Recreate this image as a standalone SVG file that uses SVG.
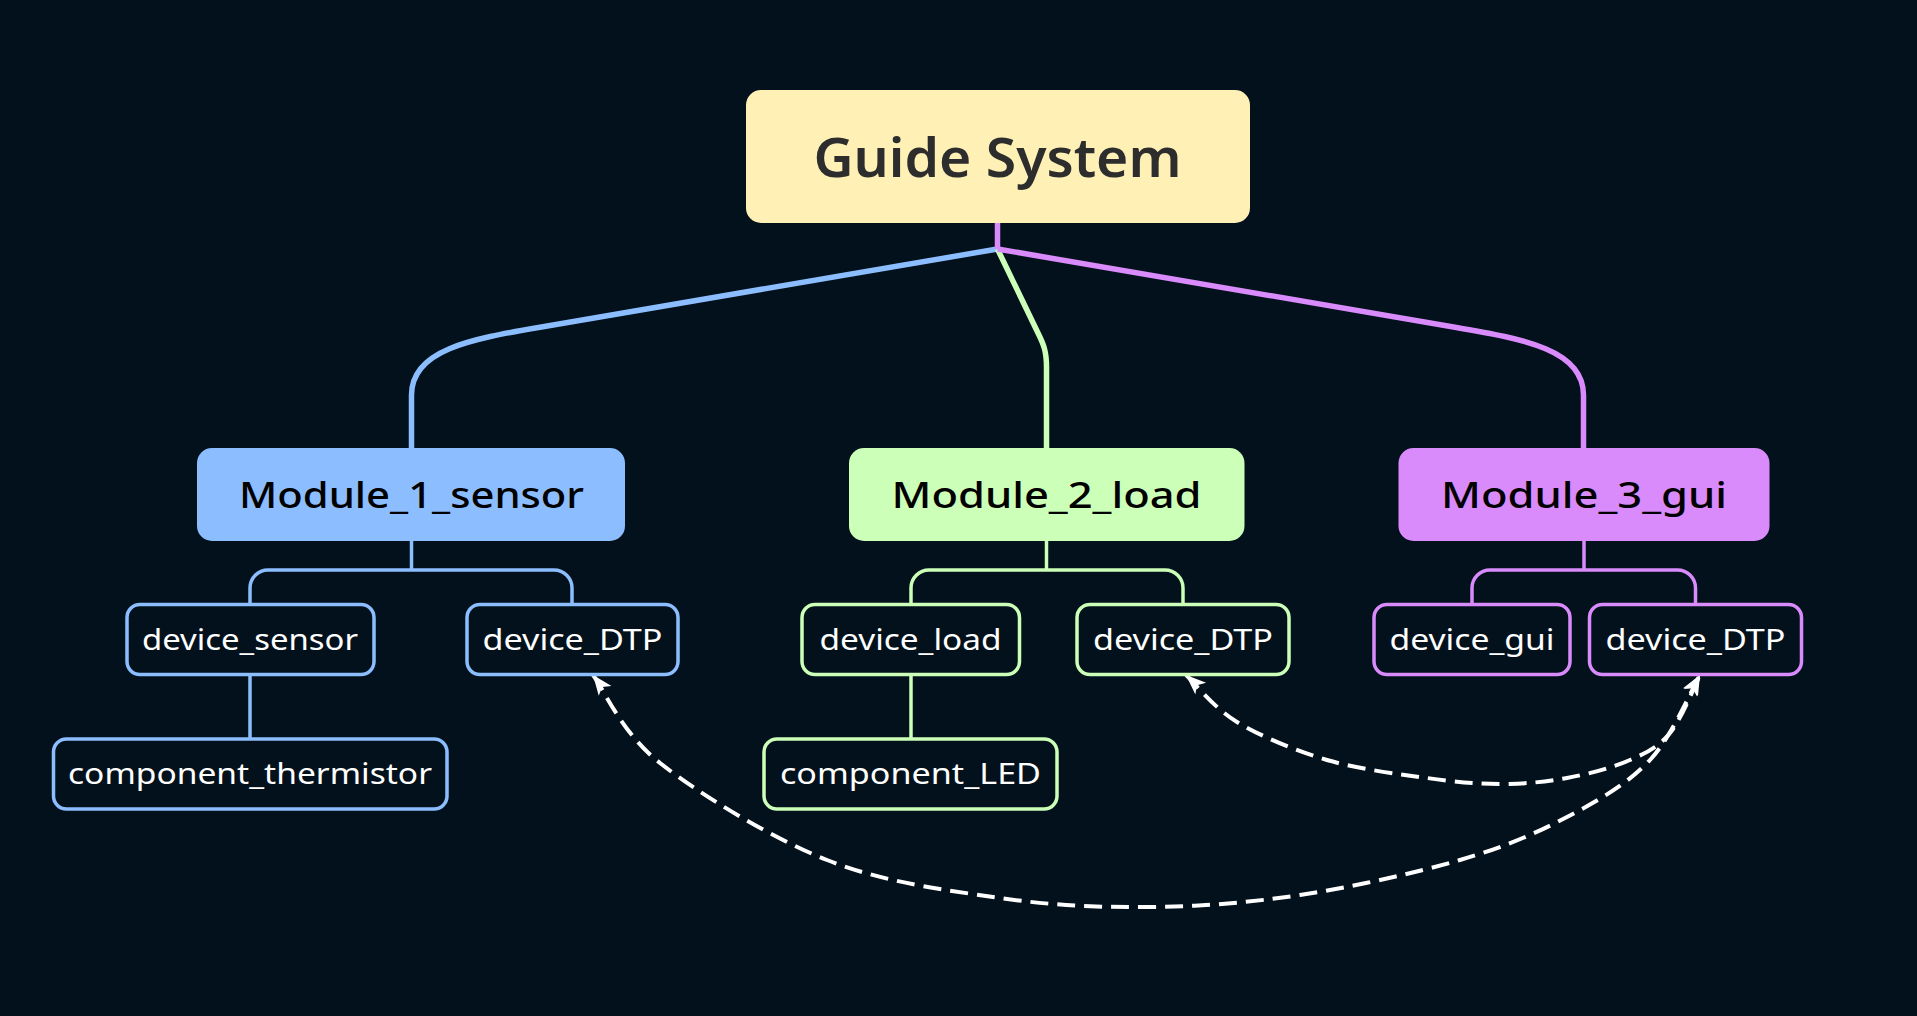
<svg xmlns="http://www.w3.org/2000/svg" width="1917" height="1016" viewBox="0 0 1917 1016">
  <defs>
    <style>
      .bg { fill: #02111b; }
      .root-box { fill: #fff0b5; }
      .root-text { font-family: "Noto Sans", "Open Sans", sans-serif; font-weight: 600; font-size: 55px; fill: #2d2d2d; text-anchor: middle; }
      .mod-text { font-family: "Noto Sans", "Open Sans", sans-serif; font-weight: 500; font-size: 37px; fill: #000000; text-anchor: middle; }
      .leaf-text { font-family: "Noto Sans", "Open Sans", sans-serif; font-weight: 400; font-size: 29.5px; fill: #ffffff; text-anchor: middle; }
      .leaf { fill: #02111b; stroke-width: 3.5; }
      .branch { fill: none; stroke-width: 5.5; stroke-linejoin: round; }
      .sub { fill: none; stroke-width: 3.5; }
      .blue { stroke: #8cbeff; }
      .green { stroke: #ccffb8; }
      .purple { stroke: #da8bfb; }
      .fblue { fill: #8cbeff; }
      .fgreen { fill: #ccffb8; }
      .fpurple { fill: #da8bfb; }
      .link { fill: none; stroke: #ffffff; stroke-width: 4; stroke-dasharray: 18 9; marker-start: url(#arrow); marker-end: url(#arrow); }
    </style>
    <marker id="arrow" markerUnits="userSpaceOnUse" viewBox="0 0 24 24" markerWidth="24" markerHeight="24" refX="22" refY="12" orient="auto-start-reverse">
      <path d="M2,4 L22,12 L2,20 L7,12 z" fill="#ffffff"/>
    </marker>
  </defs>

  <rect class="bg" x="0" y="0" width="1917" height="1016"/>

  <g id="connectors">
    <!-- root to modules -->
    <path class="branch blue" d="M997.5,249 L540,327.2 C470,339.2 411.5,350 411.5,395 L411.5,450"/>
    <path class="branch green" d="M997.5,249 L1038,333 C1044,345 1046.5,352 1046.5,367 L1046.5,450"/>
    <path class="branch purple" d="M997.5,249 L1455,327.2 C1525,339.2 1583.5,350 1583.5,395 L1583.5,450"/>
    <path class="branch purple" d="M997.5,220 L997.5,249"/>

    <!-- module 1 -->
    <path class="sub blue" d="M411.5,540 V570"/>
    <path class="sub blue" d="M250,605 V588 A18,18 0 0 1 268,570 H554 A18,18 0 0 1 572,588 V605"/>
    <path class="sub blue" d="M250,675 V740"/>

    <!-- module 2 -->
    <path class="sub green" d="M1046.5,540 V570"/>
    <path class="sub green" d="M911,605 V588 A18,18 0 0 1 929,570 H1165 A18,18 0 0 1 1183,588 V605"/>
    <path class="sub green" d="M911,675 V740"/>

    <!-- module 3 -->
    <path class="sub purple" d="M1584,540 V570"/>
    <path class="sub purple" d="M1472,605 V588 A18,18 0 0 1 1490,570 H1677.5 A18,18 0 0 1 1695.5,588 V605"/>

    <!-- dashed links -->
    <path class="link" d="M593,675 C604.2,689.7 621,732.2 660,763 C699,793.8 770.3,837.5 827,860 C883.7,882.5 946.2,890.2 1000,898 C1053.8,905.8 1100,907.5 1150,907 C1200,906.5 1248.3,902.8 1300,895 C1351.7,887.2 1415.5,873 1460,860 C1504.5,847 1535.3,833.7 1567,817 C1598.7,800.3 1627.8,783.7 1650,760 C1672.2,736.3 1691.7,689.2 1700,675"/>
    <path class="link" d="M1186,675 C1194.5,682.8 1213.5,707.8 1237,722 C1260.5,736.2 1295.3,750.7 1327,760 C1358.7,769.3 1398.2,774 1427,778 C1455.8,782 1476.7,784 1500,784 C1523.3,784 1545.3,782 1567,778 C1588.7,774 1612.8,767.5 1630,760 C1647.2,752.5 1658.3,747.2 1670,733 C1681.7,718.8 1695,684.7 1700,675"/>
  </g>

  <g id="root">
    <rect class="root-box" x="746" y="90" width="504" height="133" rx="15"/>
    <text class="root-text" x="997.5" y="176.5" textLength="368" lengthAdjust="spacingAndGlyphs">Guide System</text>
  </g>

  <g id="module1">
    <rect class="fblue" x="197" y="448" width="428" height="93" rx="15"/>
    <text class="mod-text" x="411.5" y="508" textLength="345" lengthAdjust="spacingAndGlyphs">Module_1_sensor</text>
  </g>
  <g id="module2">
    <rect class="fgreen" x="849" y="448" width="395.5" height="93" rx="15"/>
    <text class="mod-text" x="1046.5" y="508" textLength="310" lengthAdjust="spacingAndGlyphs">Module_2_load</text>
  </g>
  <g id="module3">
    <rect class="fpurple" x="1398.5" y="448" width="371" height="93" rx="15"/>
    <text class="mod-text" x="1584" y="508" textLength="286" lengthAdjust="spacingAndGlyphs">Module_3_gui</text>
  </g>

  <g id="device_sensor">
    <rect class="leaf blue" x="127" y="604.5" width="247" height="70" rx="13"/>
    <text class="leaf-text" x="250" y="649.5" textLength="216" lengthAdjust="spacingAndGlyphs">device_sensor</text>
  </g>
  <g id="device_DTP_1">
    <rect class="leaf blue" x="467" y="604.5" width="211" height="70" rx="13"/>
    <text class="leaf-text" x="572.5" y="649.5" textLength="180" lengthAdjust="spacingAndGlyphs">device_DTP</text>
  </g>
  <g id="component_thermistor">
    <rect class="leaf blue" x="53.5" y="739" width="393.5" height="70" rx="13"/>
    <text class="leaf-text" x="250" y="784" textLength="364" lengthAdjust="spacingAndGlyphs">component_thermistor</text>
  </g>

  <g id="device_load">
    <rect class="leaf green" x="802" y="604.5" width="217.5" height="70" rx="13"/>
    <text class="leaf-text" x="910.5" y="649.5" textLength="182" lengthAdjust="spacingAndGlyphs">device_load</text>
  </g>
  <g id="device_DTP_2">
    <rect class="leaf green" x="1077" y="604.5" width="212" height="70" rx="13"/>
    <text class="leaf-text" x="1183" y="649.5" textLength="180" lengthAdjust="spacingAndGlyphs">device_DTP</text>
  </g>
  <g id="component_LED">
    <rect class="leaf green" x="764" y="739" width="293" height="70" rx="13"/>
    <text class="leaf-text" x="910.5" y="784" textLength="261" lengthAdjust="spacingAndGlyphs">component_LED</text>
  </g>

  <g id="device_gui">
    <rect class="leaf purple" x="1374" y="604.5" width="196" height="70" rx="13"/>
    <text class="leaf-text" x="1472" y="649.5" textLength="165" lengthAdjust="spacingAndGlyphs">device_gui</text>
  </g>
  <g id="device_DTP_3">
    <rect class="leaf purple" x="1589.5" y="604.5" width="212" height="70" rx="13"/>
    <text class="leaf-text" x="1695.5" y="649.5" textLength="180" lengthAdjust="spacingAndGlyphs">device_DTP</text>
  </g>
</svg>
